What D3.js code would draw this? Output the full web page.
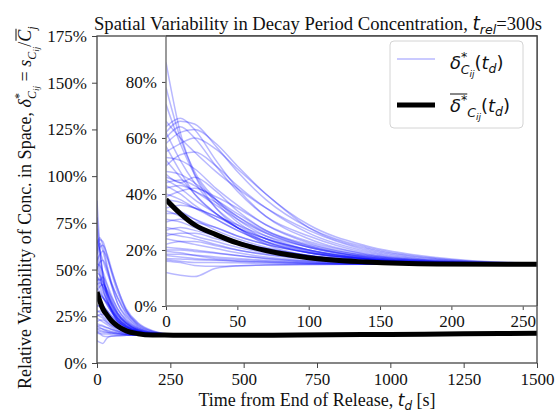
<!DOCTYPE html>
<html>
<head>
<meta charset="utf-8">
<script src="https://cdn.jsdelivr.net/npm/d3@7"></script>
<style>
body{margin:0;background:#fff}
svg{display:block}
</style>
</head>
<body>
<div id="chart"></div>
<script>
var headTimes = [0, 10, 20, 35, 50, 70, 100, 140, 190, 260]
// long flat part
var tailTimes = [400, 600, 800, 1000, 1250, 1500]
var tailLocal = [15.0, 15.2, 15.4, 15.7, 16.0, 16.4]
var tailMean = [14.8, 14.9, 15.1, 15.3, 15.6, 15.9]

// mean curve, % (black)
var meanHead = [38, 33, 29, 25.5, 22.5, 19.8, 17.2, 15.7, 15.0, 14.9]

// local curves, % (blue), one row per location
var localHeads = [
    [87, 62, 47, 35, 28, 22, 18, 16, 15.2, 14.9],
    [78, 60, 48, 38, 31, 25, 20, 17, 15.5, 15],
    [72, 58, 47, 37, 30, 24, 19.5, 16.8, 15.4, 15],
    [64, 67, 63, 52, 42, 32, 24, 18.5, 16, 15],
    [62, 66, 65, 57, 48, 38, 28, 21, 17, 15.3],
    [60, 64, 60, 50, 41, 32, 25, 19, 16.2, 15.1],
    [66, 60, 55, 48, 42, 35, 27, 20, 16.5, 15.1],
    [58, 62, 63, 58, 50, 40, 29, 21.5, 17.3, 15.3],
    [55, 58, 60, 56, 49, 40, 28, 20.5, 16.8, 15.2],
    [50, 54, 55, 50, 43, 35, 26, 19.5, 16.3, 15.1],
    [62, 52, 44, 35, 29, 24, 20, 17, 15.4, 15],
    [57, 48, 40, 33, 28, 23, 19, 16.5, 15.3, 14.9],
    [52, 46, 40, 33, 28, 23, 19, 16.6, 15.3, 14.9],
    [48, 47, 44, 38, 32, 26, 21, 17.3, 15.6, 15],
    [46, 44, 41, 36, 31, 26, 21, 17.5, 15.7, 15],
    [45, 42, 38, 33, 28, 24, 20, 17, 15.5, 15],
    [44, 45, 43, 38, 33, 27, 22, 18, 16, 15.1],
    [43, 40, 36, 31, 27, 22.5, 19, 16.6, 15.3, 14.9],
    [42, 43, 41, 37, 32, 26.5, 21.5, 17.8, 15.8, 15],
    [40, 38, 35, 31, 27, 23, 19.5, 16.8, 15.4, 14.9],
    [38, 37, 35, 32, 28, 24, 20, 17, 15.5, 14.9],
    [37, 34, 31, 27, 24, 21, 18, 16.2, 15.2, 14.9],
    [35, 36, 35, 32, 29, 25, 21, 17.5, 15.7, 15],
    [34, 32, 29, 26, 23, 20.5, 18, 16.2, 15.2, 14.9],
    [33, 33, 31, 28, 25, 22, 19, 16.8, 15.4, 14.9],
    [31, 30, 28, 25, 22.5, 20, 17.8, 16, 15.1, 14.9],
    [30, 31, 30, 28, 25, 22, 19, 16.7, 15.4, 14.9],
    [28, 27, 25, 23, 21, 19, 17.2, 15.8, 15.1, 14.9],
    [27, 28, 27, 25, 23, 20.5, 18, 16.2, 15.2, 14.9],
    [26, 25, 24, 22, 20, 18.5, 16.8, 15.6, 15, 14.9],
    [25, 26, 26, 24, 22, 19.5, 17.5, 16, 15.1, 14.9],
    [24, 23, 22, 20.5, 19, 17.5, 16.3, 15.4, 15, 14.9],
    [22, 23, 23, 21.5, 20, 18.3, 16.8, 15.6, 15, 14.9],
    [21, 20.5, 20, 19, 18, 17, 16, 15.3, 15, 14.9],
    [20, 20, 19.5, 18.8, 18, 17, 16, 15.3, 14.9, 14.9],
    [19.5, 19, 18, 17, 16.5, 16, 15.4, 15, 14.9, 14.9],
    [18.5, 18.5, 18.2, 17.5, 17, 16.3, 15.6, 15.1, 14.9, 14.9],
    [18, 17.5, 17, 16.5, 16, 15.7, 15.3, 15, 14.9, 14.9],
    [17, 16.8, 16.5, 16.3, 16, 15.6, 15.2, 15, 14.9, 14.9],
    [16.5, 16, 15.5, 15.5, 15.4, 15.2, 15, 14.9, 14.9, 14.9],
    [12, 11, 10.5, 13.5, 14.3, 14.6, 14.8, 14.9, 14.9, 14.9],
    [16, 15.5, 14.5, 14.2, 14.4, 14.6, 14.8, 14.9, 14.9, 14.9],
    [47, 44, 46, 41, 34, 27, 21.5, 17.4, 15.6, 15],
    [53, 52, 49, 42, 36, 29, 22.5, 18, 15.8, 15.1],
    [39, 41, 42, 39, 35, 29, 23, 18.5, 16, 15.1]
]

var mainXTicks = [0, 250, 500, 750, 1000, 1250, 1500]
var mainYTicks = [0, 25, 50, 75, 100, 125, 150, 175]
var insetXTicks = [0, 50, 100, 150, 200, 250]
var insetYTicks = [0, 20, 40, 60, 80]

function toPoints(head, tail){
    var pts = headTimes.map(function(t, i){ return {t: t, v: head[i]} })
    tailTimes.forEach(function(t, i){ pts.push({t: t, v: tail[i]}) })
    return pts
}
var localSeries = localHeads.map(function(h){ return toPoints(h, tailLocal) })
var meanSeries = toPoints(meanHead, tailMean)

var W = 557, H = 415
var blueOpacity = 0.28
var SERIF = "'Liberation Serif', 'Times New Roman', Times"
var SANS = "'DejaVu Sans', 'Liberation Sans'"

var svg = d3.select("#chart").append("svg")
    .attr("width", W).attr("height", H)

// main panel
var xMain = d3.scaleLinear().domain([0, 1500]).range([97, 537])
var yMain = d3.scaleLinear().domain([0, 175]).range([363, 36])
// inset panel (shares top and right edge with main)
var xIn = d3.scaleLinear().domain([0, 260]).range([166, 537])
var yIn = d3.scaleLinear().domain([0, 96.4]).range([306, 36])

var defs = svg.append("defs")
defs.append("clipPath").attr("id", "clipMain").append("rect")
    .attr("x", 97).attr("y", 36).attr("width", 440).attr("height", 327)
defs.append("clipPath").attr("id", "clipIn").append("rect")
    .attr("x", 166).attr("y", 36).attr("width", 371).attr("height", 270)

var lineMain = d3.line().x(function(d){ return xMain(d.t) }).y(function(d){ return yMain(d.v) }).curve(d3.curveMonotoneX)
var lineIn = d3.line().x(function(d){ return xIn(d.t) }).y(function(d){ return yIn(d.v) }).curve(d3.curveMonotoneX)

var gMain = svg.append("g").attr("clip-path", "url(#clipMain)")
gMain.selectAll(".loc").data(localSeries).enter().append("path")
    .attr("d", lineMain).attr("fill", "none")
    .attr("stroke", "#0000ff").attr("stroke-opacity", blueOpacity).attr("stroke-width", 1.5)
gMain.append("path").datum(meanSeries).attr("d", lineMain)
    .attr("fill", "none").attr("stroke", "#000").attr("stroke-width", 5)

var fmt = d3.format("d")
// main axes
svg.append("g").attr("transform", "translate(0,363)")
    .call(d3.axisBottom(xMain).tickValues(mainXTicks).tickSize(5).tickPadding(5).tickFormat(fmt))
    .call(function(g){ g.select(".domain").remove() })
svg.append("g").attr("transform", "translate(97,0)")
    .call(d3.axisLeft(yMain).tickValues(mainYTicks).tickSize(5).tickPadding(5).tickFormat(function(d){ return d + "%" }))
    .call(function(g){ g.select(".domain").remove() })
svg.append("rect").attr("x", 97).attr("y", 36).attr("width", 440).attr("height", 327)
    .attr("fill", "none").attr("stroke", "#444").attr("stroke-width", 1.3)

// inset
svg.append("rect").attr("x", 166).attr("y", 36).attr("width", 371).attr("height", 270).attr("fill", "#fff")
var gIn = svg.append("g").attr("clip-path", "url(#clipIn)")
gIn.selectAll(".loc").data(localSeries).enter().append("path")
    .attr("d", lineIn).attr("fill", "none")
    .attr("stroke", "#0000ff").attr("stroke-opacity", blueOpacity).attr("stroke-width", 1.5)
gIn.append("path").datum(meanSeries).attr("d", lineIn)
    .attr("fill", "none").attr("stroke", "#000").attr("stroke-width", 5)

svg.append("g").attr("transform", "translate(0,306)")
    .call(d3.axisBottom(xIn).tickValues(insetXTicks).tickSize(4).tickPadding(5).tickFormat(fmt))
    .call(function(g){ g.select(".domain").remove() })
svg.append("g").attr("transform", "translate(166,0)")
    .call(d3.axisLeft(yIn).tickValues(insetYTicks).tickSize(4).tickPadding(5).tickFormat(function(d){ return d + "%" }))
    .call(function(g){ g.select(".domain").remove() })
svg.append("path").attr("d", "M166,36V306H537")
    .attr("fill", "none").attr("stroke", "#7a7a7a").attr("stroke-width", 1.5)
svg.append("path").attr("d", "M166,36H537V306")
    .attr("fill", "none").attr("stroke", "#444").attr("stroke-width", 1.3)

svg.selectAll(".tick text").attr("font-family", SERIF).style("font-family", SERIF)
    .style("font-size", "17px").attr("fill", "#111")
svg.selectAll(".tick line").attr("stroke", "#444")

// helper: a text piece with its own font, set inline
function piece(parent, str, fam, size, italic){
    var s = parent.append("tspan").text(str)
        .attr("font-family", fam).style("font-family", fam).style("font-size", size + "px")
    if(italic) s.style("font-style", "italic")
    return s
}
function txt(x, y){
    return svg.append("text").attr("x", x).attr("y", y).attr("fill", "#111")
        .attr("font-family", SERIF).style("font-family", SERIF)
}

// title, sized so it spans the same width as the reference
var title = txt(94, 30)
function buildTitle(s){
    title.selectAll("tspan").remove()
    piece(title, "Spatial Variability in Decay Period Concentration, ", SERIF, s)
    piece(title, "t", SANS, s, true)
    piece(title, "rel", SANS, s * 0.68, true).attr("dy", 4)
    piece(title, "=300s", SERIF, s).attr("dy", -4)
}
buildTitle(19)
var tw = title.node().getComputedTextLength()
buildTitle(Math.min(21, 19 * 448 / tw))

// x label
var xl = txt(317, 406).attr("text-anchor", "middle")
piece(xl, "Time from End of Release, ", SERIF, 18)
piece(xl, "t", SANS, 17, true)
piece(xl, "d", SANS, 12, true).attr("dy", 4)
piece(xl, " [s]", SERIF, 18).attr("dy", -4)

// y label
var gy = svg.append("g").attr("transform", "translate(31,389) rotate(-90)")
var yl = gy.append("text").attr("x", 0).attr("y", 0).attr("fill", "#111")
    .attr("font-family", SERIF).style("font-family", SERIF)
piece(yl, "Relative Variability of Conc. in Space, ", SERIF, 18)
piece(yl, "\u03b4", SERIF, 18, true)
piece(yl, "*", SERIF, 12).attr("dy", -8)
piece(yl, "C", SERIF, 12, true).attr("dx", -6).attr("dy", 13)
piece(yl, "ij", SERIF, 9, true).attr("dy", 3)
piece(yl, " = ", SERIF, 18).attr("dy", -8)
piece(yl, "s", SERIF, 18, true)
piece(yl, "C", SERIF, 12, true).attr("dy", 5)
piece(yl, "ij", SERIF, 9, true).attr("dy", 3)
piece(yl, "/", SERIF, 18).attr("dy", -8)
piece(yl, "C", SERIF, 18, true)
piece(yl, "j", SERIF, 12, true).attr("dy", 5)
// overline over the last C
var nChars = yl.node().getNumberOfChars()
var ext = yl.node().getExtentOfChar(nChars - 2)
gy.append("line").attr("x1", ext.x + 1).attr("x2", ext.x + ext.width + 1)
    .attr("y1", ext.y + 1).attr("y2", ext.y + 1).attr("stroke", "#111").attr("stroke-width", 1)

// legend
var lg = svg.append("g")
lg.append("rect").attr("x", 390).attr("y", 41).attr("width", 133).attr("height", 87).attr("rx", 4)
    .attr("fill", "#fff").attr("fill-opacity", 0.8).attr("stroke", "#d4d4d4")
lg.append("line").attr("x1", 397).attr("x2", 435).attr("y1", 59).attr("y2", 59)
    .attr("stroke", "#0000ff").attr("stroke-opacity", blueOpacity).attr("stroke-width", 1.5)
lg.append("line").attr("x1", 397).attr("x2", 435).attr("y1", 105).attr("y2", 105)
    .attr("stroke", "#000").attr("stroke-width", 5)

function mathLabel(y, withBar){
    var t = lg.append("text").attr("x", 450).attr("y", y).attr("fill", "#111")
        .attr("font-family", SANS).style("font-family", SANS)
    piece(t, "\u03b4", SANS, 18, true)
    piece(t, "*", SANS, 12.5).attr("dy", -8)
    var c = piece(t, "C", SANS, 12.5, true).attr("dy", 13)
    if(!withBar) c.attr("dx", -6.5)
    piece(t, "ij", SANS, 9, true).attr("dy", 3)
    piece(t, "(", SANS, 18).attr("dy", -8)
    piece(t, "t", SANS, 18, true)
    piece(t, "d", SANS, 12.5, true).attr("dy", 4)
    piece(t, ")", SANS, 18).attr("dy", -4)
    if(withBar){
        var a = t.node().getExtentOfChar(0), b = t.node().getExtentOfChar(1)
        lg.append("line").attr("x1", a.x).attr("x2", b.x + b.width)
            .attr("y1", a.y - 1).attr("y2", a.y - 1).attr("stroke", "#111").attr("stroke-width", 1)
    }
}
mathLabel(69, false)
mathLabel(112, true)
</script>
</body>
</html>
